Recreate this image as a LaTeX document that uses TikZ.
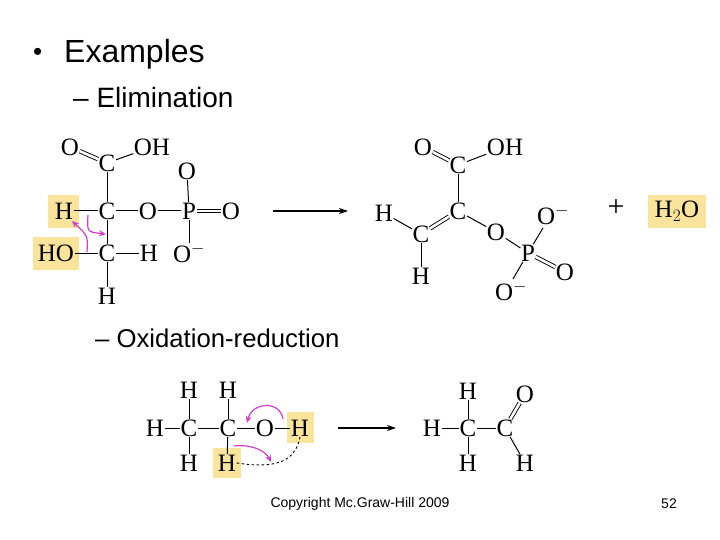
\documentclass[tikz,border=0pt]{standalone}
\usepackage{fontspec}
\setmainfont{Liberation Serif}
\newfontfamily\sans{Liberation Sans}
\usetikzlibrary{arrows.meta}
\definecolor{hl}{HTML}{FAE49B}
\definecolor{pk}{HTML}{D43CCF}
\begin{document}
\begin{tikzpicture}[x=1pt,y=-1pt,
 atm/.style={font=\fontsize{25}{25}\selectfont,inner sep=0.5pt},
 bd/.style={line width=1pt},
 db/.style={line width=0.9pt,double,double distance=2.6pt},
 pka/.style={pk,line width=1.2pt,-{Stealth[length=7pt,width=6pt]}},
 rx/.style={line width=1.1pt,-{Stealth[length=9pt,width=6pt]}},
 bul/.style={font=\sans\fontsize{28}{28}\selectfont,anchor=west,inner sep=0},
 foot/.style={font=\sans\fontsize{14}{14}\selectfont,inner sep=0}]
\useasboundingbox (0,0) rectangle (720,540);
\node[bul,font=\sans\fontsize{26}{26}\selectfont] (t0) at (33,54) {\textbullet};
\node[bul,font=\sans\fontsize{32}{32}\selectfont] (t1) at (64,54) {Examples};
\node[bul] (t2) at (73,97) {– Elimination};
\node[bul,font=\sans\fontsize{25.7}{26}\selectfont] (t3) at (95,338) {– Oxidation-reduction};
% highlights
\fill[hl] (48,195) rectangle (79,228);
\fill[hl] (33,237) rectangle (79,270);
\fill[hl] (648,195) rectangle (706,228);
\fill[hl] (287,412) rectangle (314,443);
\fill[hl] (213,448) rectangle (241,478);
% left molecule
\node[atm] (aO) at (70,147) {O};
\node[atm] (aC1) at (107,163) {C};
\node[atm] (aOH) at (152,147) {OH};
\node[atm] (aC2) at (107,211) {C};
\node[atm] (aH) at (64,211) {H};
\node[atm] (aO2) at (148,211) {O};
\node[atm] (aP) at (189,211) {P};
\node[atm] (aO3) at (231,211) {O};
\node[atm] (aO4) at (187,171) {O};
\node[atm] (aO5) at (189,253) {O$^{-}$};
\node[atm] (aC3) at (107,253) {C};
\node[atm] (aHO) at (56,253) {HO};
\node[atm] (aH2) at (149,253) {H};
\node[atm] (aH3) at (107,296) {H};
\draw[db] (aO) -- (aC1);
\draw[bd] (aC1) -- (aOH);
\draw[bd] (aC1) -- (aC2);
\draw[bd] (aH) -- (aC2);
\draw[bd] (aC2) -- (aO2);
\draw[bd] (aO2) -- (aP);
\draw[db] (aP) -- (aO3);
\draw[bd] (aP) -- (aO4);
\draw[bd] (aP) -- (aO5.north west -| aP);
\draw[bd] (aC2) -- (aC3);
\draw[bd] (aHO) -- (aC3);
\draw[bd] (aC3) -- (aH2);
\draw[bd] (aC3) -- (aH3);
\coordinate (pa1) at (88,215); \coordinate (pa2) at (106,234);
\coordinate (pa3) at (87,252); \coordinate (pa4) at (72,221);
\draw[pka] (pa1) .. controls (87,232) .. (pa2);
\draw[pka] (pa3) .. controls (88,236) .. (pa4);
\node (r1s) at (273,211) {}; \node (r1e) at (348,211) {};
\draw[rx] (r1s.center) -- (r1e.center);
% right molecule
\node[atm] (bO) at (423,147) {O};
\node[atm] (bC1) at (458,165) {C};
\node[atm] (bOH) at (505,147) {OH};
\node[atm] (bC2) at (458,211) {C};
\node[atm] (bH) at (384,213) {H};
\node[atm] (bC3) at (421,234) {C};
\node[atm] (bH2) at (421,276) {H};
\node[atm] (bO2) at (496,232) {O};
\node[atm] (bP) at (528,253) {P};
\node[atm] (bO3) at (553,215) {O$^{-}$};
\node[atm] (bO4) at (565,272) {O};
\node[atm] (bO5) at (511,291) {O$^{-}$};
\draw[db] (bO) -- (bC1);
\draw[bd] (bC1) -- (bOH);
\draw[bd] (bC1) -- (bC2);
\draw[db] (bC2) -- (bC3);
\draw[bd] (bH) -- (bC3);
\draw[bd] (bC3) -- (bH2);
\draw[bd] (bC2) -- (bO2);
\draw[bd] (bO2) -- (bP);
\draw[bd] (bP) -- (543,228);
\draw[db] (bP) -- (bO4);
\draw[bd] (bP) -- (513,279);
\node[atm,font=\fontsize{30}{30}\selectfont] (plus) at (616,208) {+};
\node[atm] (h2o) at (677,211) {H$_2$O};
% bottom reactant
\node[atm] (cH1) at (155,428) {H};
\node[atm] (cC1) at (189,428) {C};
\node[atm] (cC2) at (228,428) {C};
\node[atm] (cO) at (265,428) {O};
\node[atm] (cH2) at (300,428) {H};
\node[atm] (cH3) at (189,390) {H};
\node[atm] (cH4) at (228,390) {H};
\node[atm] (cH5) at (189,463) {H};
\node[atm] (cH6) at (227,463) {H};
\draw[bd] (cH1) -- (cC1);
\draw[bd] (cC1) -- (cC2);
\draw[bd] (cC2) -- (cO);
\draw[bd] (cO) -- (cH2);
\draw[bd] (cC1) -- (cH3);
\draw[bd] (cC1) -- (cH5);
\draw[bd] (cC2) -- (cH4);
\draw[bd] (cC2) -- (cH6);
\coordinate (q1) at (283,419); \coordinate (q2) at (247,423);
\coordinate (q3) at (234,446); \coordinate (q4) at (271,462);
\draw[pka] (q1) .. controls (280,400) and (252,402) .. (q2);
\draw[pka] (q3) .. controls (250,444) and (265,450) .. (q4);
\draw[line width=0.9pt,dash pattern=on 2.5pt off 2.5pt] (cH6.east) .. controls (270,468) and (295,465) .. (cH2.south);
\node (r2s) at (338,428) {}; \node (r2e) at (396,428) {};
\draw[rx] (r2s.center) -- (r2e.center);
% bottom product
\node[atm] (dH1) at (432,428) {H};
\node[atm] (dC1) at (468,428) {C};
\node[atm] (dC2) at (505,428) {C};
\node[atm] (dO) at (525,394) {O};
\node[atm] (dH2) at (468,391) {H};
\node[atm] (dH3) at (468,463) {H};
\node[atm] (dH4) at (525,463) {H};
\draw[bd] (dH1) -- (dC1);
\draw[bd] (dC1) -- (dC2);
\draw[bd] (dC1) -- (dH2);
\draw[bd] (dC1) -- (dH3);
\draw[db] (dC2) -- (dO);
\draw[bd] (dC2) -- (dH4);
\node[foot] (cp) at (360,504) {Copyright Mc.Graw-Hill 2009};
\node[foot] (pg) at (669,504) {52};
\end{tikzpicture}
\end{document}
